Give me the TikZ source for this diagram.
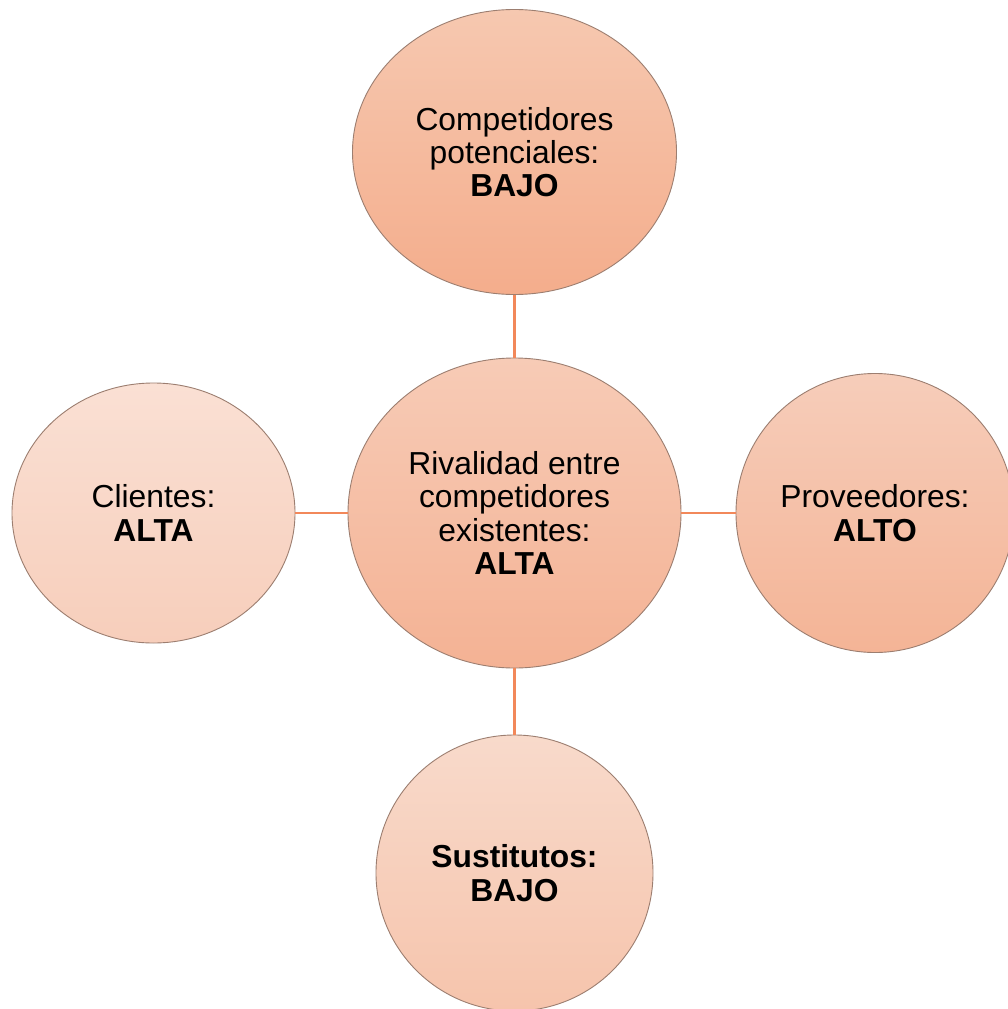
\documentclass[tikz,border=0pt]{standalone}
\usepackage{fontspec}
\setmainfont{Liberation Sans}
\usetikzlibrary{shapes.geometric}
\definecolor{linkc}{HTML}{F2885A}
\definecolor{edgec}{HTML}{9C7E70}
\tikzset{
  bubble/.style={ellipse, draw=edgec, line width=0.9pt, inner sep=0pt, align=center,
    font=\fontsize{31.8}{33.3}\selectfont, text=black},
  link/.style={draw=linkc, line width=2.6pt}
}
\begin{document}
\begin{tikzpicture}[x=1pt,y=-1pt]
\clip (0,0) rectangle (1008,1009);
\useasboundingbox (0,0) rectangle (1008,1009);
\fill[white] (0,0) rectangle (1008,1009);
\node[bubble, minimum width=324pt, minimum height=285pt,
  top color={rgb,255:red,246;green,200;blue,176}, bottom color={rgb,255:red,244;green,173;blue,140}]
  (top) at (514.5,152) {Competidores\\potenciales:\\\textbf{BAJO}};
\node[bubble, minimum width=333pt, minimum height=310pt,
  top color={rgb,255:red,247;green,203;blue,182}, bottom color={rgb,255:red,244;green,178;blue,148}]
  (mid) at (514.5,513) {Rivalidad entre\\competidores\\existentes:\\\textbf{ALTA}};
\node[bubble, minimum width=283pt, minimum height=260pt,
  top color={rgb,255:red,250;green,224;blue,212}, bottom color={rgb,255:red,247;green,206;blue,187}]
  (left) at (153.5,513) {Clientes:\\\textbf{ALTA}};
\node[bubble, minimum width=278pt, minimum height=279pt,
  top color={rgb,255:red,246;green,205;blue,186}, bottom color={rgb,255:red,244;green,180;blue,150}]
  (right) at (875,513) {Proveedores:\\\textbf{ALTO}};
\node[bubble, minimum width=277pt, minimum height=276pt,
  top color={rgb,255:red,248;green,218;blue,203}, bottom color={rgb,255:red,246;green,196;blue,172}]
  (bot) at (514.5,873) {\textbf{Sustitutos:}\\\textbf{BAJO}};
\draw[link] (top.south) -- (mid.north);
\draw[link] (mid.south) -- (bot.north);
\draw[link] (left.east) -- (mid.west);
\draw[link] (mid.east) -- (right.west);
\end{tikzpicture}
\end{document}
